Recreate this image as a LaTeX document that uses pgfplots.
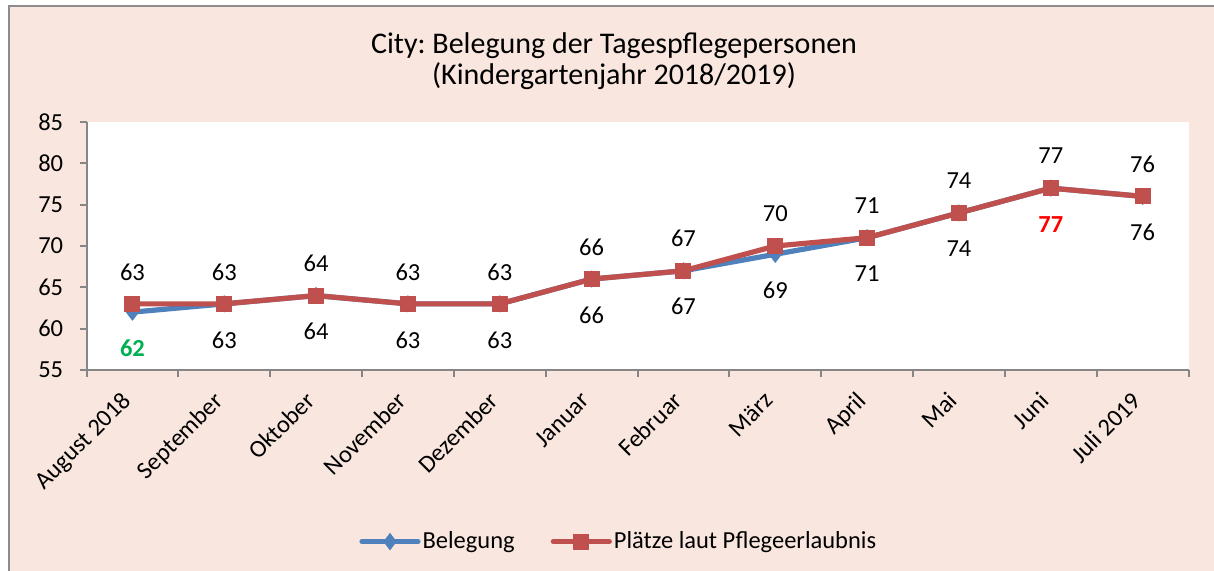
\documentclass[border=0pt]{standalone}
\usepackage{fontspec}
\setmainfont{Carlito}
\usepackage{pgfplots}
\pgfplotsset{compat=1.18}
\frenchspacing
\definecolor{bgpink}{HTML}{F9E7DF}
\definecolor{framegray}{HTML}{8C8C8C}
\definecolor{axgray}{HTML}{868686}
\definecolor{sblue}{HTML}{4F81BD}
\definecolor{sred}{HTML}{C0504D}
\definecolor{lgreen}{HTML}{00B050}
\definecolor{lred}{HTML}{FF0000}

\pgfplotstableread{
x y c
0 62 1
1 63 0
2 64 0
3 63 0
4 63 0
5 66 0
6 67 0
7 69 0
8 71 0
9 74 0
10 77 2
11 76 0
}\belegung

\pgfplotstableread{
x y c
0 63 0
1 63 0
2 64 0
3 63 0
4 63 0
5 66 0
6 67 0
7 70 0
8 71 0
9 74 0
10 77 0
11 76 0
}\plaetze

\newcommand{\lblfont}{\fontsize{12.25}{14.5}\selectfont}
\newcommand{\ttlfont}{\fontsize{15}{18}\selectfont}

\begin{document}
\begin{tikzpicture}[x=0.5pt,y=0.5pt]
\useasboundingbox (0,0) rectangle (1214,571);
\fill[white] (0,0) rectangle (1214,571);
\fill[bgpink] (9,0) rectangle (1214,565);
\draw[framegray, line width=1pt] (9,0) -- (9,565) -- (1214,565);
\node[font=\ttlfont, anchor=base, inner sep=0pt] at (614,517.3) {City: Belegung der Tagespflegepersonen};
\node[font=\ttlfont, anchor=base, inner sep=0pt] at (614,486) {(Kindergartenjahr 2018/2019)};
\begin{axis}[
  at={(43.25pt,100.5pt)}, anchor=south west,
  scale only axis, width=551pt, height=124pt,
  xmin=-0.5, xmax=11.5, ymin=55, ymax=85,
  axis lines*=left,
  axis line style={axgray, line width=1pt},
  tick align=outside,
  xtick={0,...,11},
  xticklabels={August 2018, September, Oktober, November, Dezember, Januar, Februar, März, April, Mai, Juni, Juli 2019},
  minor xtick={-0.5,0.5,...,11.5},
  major x tick style={draw=none},
  minor x tick style={axgray, line width=1pt},
  minor tick length=3.5pt,
  ytick={55,60,...,85},
  major y tick style={axgray, line width=1pt},
  major tick length=3.5pt,
  xticklabel style={xshift=-6pt, yshift=-6.5pt, rotate=45, anchor=north east, font=\lblfont, inner sep=0pt},
  yticklabel style={font=\lblfont, anchor=east, inner sep=0pt, xshift=-8pt},
  /pgf/number format/assume math mode=true,
  axis background/.style={fill=white},
  clip=false,
  legend style={at={(0.483,-0.692)}, anchor=center, draw=none, fill=none,
    legend columns=2, font=\lblfont, nodes={inner sep=1pt},
    /tikz/every even column/.append style={column sep=17pt}},
  legend cell align=left,
  legend image code/.code={\draw[mark repeat=2,mark phase=2,line cap=round] plot coordinates {(0pt,0pt)(14pt,0pt)(28pt,0pt)};},
]
\addplot[sblue, line width=2.6pt, line join=round, mark=diamond*, mark size=4pt, mark options={solid, line width=0.5pt},
  visualization depends on={\thisrow{c} \as \lblstyle},
  nodes near coords={\ifdim\lblstyle pt=1pt \color{lgreen}\bfseries\else\ifdim\lblstyle pt=2pt \color{lred}\bfseries\fi\fi\pgfmathprintnumber{\pgfplotspointmeta}},
  every node near coord/.append style={anchor=center, yshift=-18pt, font=\lblfont, text=black}]
  table[x=x,y=y] {\belegung};
\addlegendentry{Belegung}
\addplot[sred, line width=2.6pt, line join=round, mark=square*, mark size=3.75pt, mark options={solid, line width=0.5pt},
  nodes near coords={\pgfmathprintnumber{\pgfplotspointmeta}},
  every node near coord/.append style={anchor=center, yshift=16pt, font=\lblfont, text=black}]
  table[x=x,y=y] {\plaetze};
\addlegendentry{Plätze laut Pflegeerlaubnis}
\end{axis}
\end{tikzpicture}
\end{document}
